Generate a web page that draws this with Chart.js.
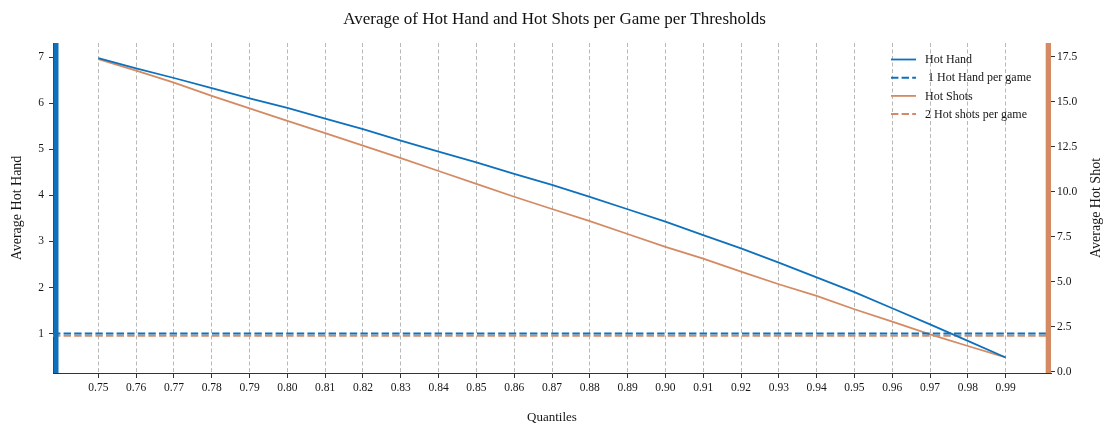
<!DOCTYPE html>
<html><head><meta charset="utf-8">
<script src="https://cdn.jsdelivr.net/npm/chart.js@4.4.1/dist/chart.umd.min.js"></script>
<style>html,body{margin:0;padding:0;background:#fff;overflow:hidden}#wrap{width:1109px;height:425px;position:relative}</style>
</head><body><div id="wrap"><canvas id="c"></canvas></div>
<script>
const quantiles = [0.75,0.76,0.77,0.78,0.79,0.80,0.81,0.82,0.83,0.84,0.85,0.86,0.87,0.88,0.89,0.90,0.91,0.92,0.93,0.94,0.95,0.96,0.97,0.98,0.99];
const hotHand = [6.98,6.76,6.55,6.33,6.11,5.90,5.67,5.44,5.19,4.95,4.72,4.47,4.23,3.97,3.70,3.43,3.14,2.85,2.54,2.22,1.90,1.55,1.20,0.84,0.48];
const hotShots = [17.37,16.72,16.06,15.32,14.63,13.93,13.25,12.56,11.86,11.15,10.43,9.72,9.04,8.37,7.65,6.94,6.28,5.56,4.86,4.21,3.47,2.78,2.08,1.43,0.80];
const hotHandThreshold = 1;
const hotShotThreshold = 2;
const xTicks = quantiles;
const leftTicks = [1,2,3,4,5,6,7];
const rightTicks = [0,2.5,5,7.5,10,12.5,15,17.5];
const titleText = 'Average of Hot Hand and Hot Shots per Game per Thresholds';
const xTitle = 'Quantiles';
const leftTitle = 'Average Hot Hand';
const rightTitle = 'Average Hot Shot';
const seriesLabels = ['Hot Hand', ' 1 Hot Hand per game', 'Hot Shots', '2 Hot shots per game'];
const xRange = [0.738, 1.002];
const leftRange = [0.144, 7.31];
const rightRange = [-0.07, 18.26];

const BLUE = '#0f71bc';
const ORANGE = '#d48a63';
const TXT = '#161616';
const FONT = "'Liberation Serif', 'Times New Roman', serif";
Chart.defaults.font.family = FONT;
Chart.defaults.color = TXT;

const pts = (xs, ys) => xs.map((x, i) => ({x, y: ys[i]}));

const decor = {
  id: 'decor',
  afterDatasetsDraw(chart) {
    const {ctx, chartArea: a} = chart;
    ctx.save();
    ctx.fillStyle = BLUE;
    ctx.fillRect(a.left + 0.5, a.top, 5, a.bottom - a.top);
    ctx.fillStyle = ORANGE;
    ctx.fillRect(a.right - 5.3, a.top, 5.3, a.bottom - a.top);
    // legend
    ctx.font = '12px ' + FONT;
    ctx.textBaseline = 'middle';
    ctx.textAlign = 'left';
    chart.data.datasets.forEach((ds, i) => {
      const y = a.top + 16.5 + i * 18.2;
      const x0 = a.right - 160;
      ctx.beginPath();
      ctx.strokeStyle = ds.borderColor;
      ctx.lineWidth = ds.borderWidth;
      ctx.setLineDash(ds.borderDash || []);
      ctx.moveTo(x0, y); ctx.lineTo(x0 + 25, y);
      ctx.stroke();
      ctx.setLineDash([]);
      ctx.fillStyle = TXT;
      ctx.fillText(ds.label, x0 + 34, y + 0.5);
    });
    // right axis title (reads bottom-to-top)
    const ys = chart.scales.y1;
    ctx.font = '14px ' + FONT;
    ctx.textAlign = 'center';
    ctx.translate(ys.right - 12.3, (a.top + a.bottom) / 2);
    ctx.rotate(-Math.PI / 2);
    ctx.fillText(rightTitle, 0, 0);
    ctx.restore();
  }
};

new Chart(document.getElementById('c'), {
  type: 'line',
  data: {
    datasets: [
      {label: seriesLabels[0], data: pts(quantiles, hotHand), borderColor: BLUE, borderWidth: 1.8, yAxisID: 'y', pointRadius: 0, tension: 0},
      {label: seriesLabels[1], data: pts(xRange, [hotHandThreshold, hotHandThreshold]), borderColor: BLUE, borderWidth: 2, borderDash: [7.4, 3.2], yAxisID: 'y', pointRadius: 0},
      {label: seriesLabels[2], data: pts(quantiles, hotShots), borderColor: ORANGE, borderWidth: 1.8, yAxisID: 'y1', pointRadius: 0, tension: 0},
      {label: seriesLabels[3], data: pts(xRange, [hotShotThreshold, hotShotThreshold]), borderColor: ORANGE, borderWidth: 2, borderDash: [7.4, 3.2], yAxisID: 'y1', pointRadius: 0}
    ]
  },
  options: {
    responsive: true,
    maintainAspectRatio: false,
    animation: false,
    layout: {padding: 0},
    plugins: {
      legend: {display: false},
      tooltip: {enabled: false},
      title: {display: true, text: titleText, color: '#111', font: {size: 17, weight: 'normal', family: FONT}, padding: {top: 9, bottom: 13.6}}
    },
    scales: {
      x: {
        type: 'linear', min: xRange[0], max: xRange[1],
        afterBuildTicks: s => { s.ticks = xTicks.map(v => ({value: v})); },
        afterFit: s => { s.height = 52; },
        ticks: {callback: v => v.toFixed(2), font: {size: 11.5}, padding: 3.5, maxRotation: 0, autoSkip: false, color: TXT},
        grid: {color: '#b8b8b8', lineWidth: 1, tickLength: 5, tickColor: '#333', tickBorderDash: [1, 0], tickWidth: 1},
        border: {display: true, color: '#333', width: 1, dash: [4, 2.5]},
        title: {display: true, text: xTitle, font: {size: 13}, padding: {top: 0, bottom: 0}, color: TXT}
      },
      y: {
        type: 'linear', position: 'left', min: leftRange[0], max: leftRange[1],
        afterBuildTicks: s => { s.ticks = leftTicks.map(v => ({value: v})); },
        afterFit: s => { s.width = 53; },
        ticks: {callback: v => String(v), font: {size: 11.5}, padding: 5, color: TXT},
        grid: {drawOnChartArea: false, tickLength: 4, tickColor: '#333', color: '#333'},
        border: {display: true, color: '#333', width: 1},
        title: {display: true, text: leftTitle, font: {size: 14}, padding: {top: 8.8, bottom: 0}, color: TXT}
      },
      y1: {
        type: 'linear', position: 'right', min: rightRange[0], max: rightRange[1],
        afterBuildTicks: s => { s.ticks = rightTicks.map(v => ({value: v})); },
        afterFit: s => { s.width = 58; },
        ticks: {callback: v => v.toFixed(1), font: {size: 11.5}, padding: 2, color: TXT},
        grid: {drawOnChartArea: false, tickLength: 4, tickColor: '#333', color: '#333'},
        border: {display: false}
      }
    }
  },
  plugins: [decor]
});
</script>
</body></html>
